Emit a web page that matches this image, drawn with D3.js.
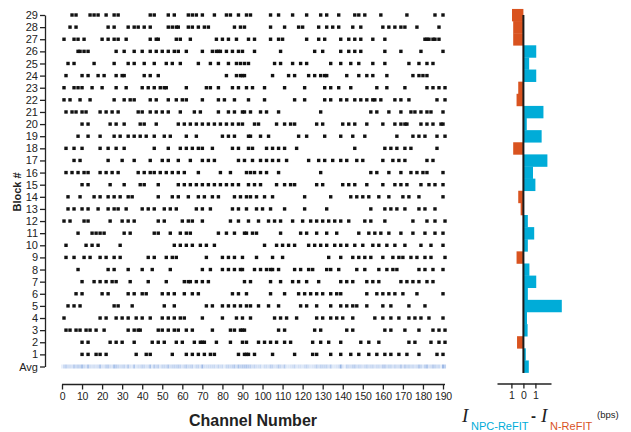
<!DOCTYPE html>
<html>
<head>
<meta charset="utf-8">
<script src="https://cdn.jsdelivr.net/npm/d3@7"></script>
<style>
  body { margin: 0; background: #fff; }
  svg { display: block; }
  text { font-family: "Liberation Sans", Arial, Helvetica, sans-serif; }
</style>
</head>
<body>
<div id="chart"></div>
<script>
// Selected channels for each block (block 1 first)
const blockChannels = [
  [10,13,17,19,22,37,42,44,55,62,65,68,71,74,76,88,91,92,93,96,105,116,125,127,134,139,144,148,153,157,161,164,168,172,178,187,190],
  [10,13,24,27,30,36,45,48,51,57,60,66,69,70,71,77,84,90,92,98,101,104,107,111,114,125,129,133,139,149,153,158,173,176,184,188,191],
  [2,4,7,9,12,14,17,21,33,36,38,39,48,50,53,56,58,62,65,75,84,86,89,90,91,108,111,126,129,142,145,161,164,171,178,185,188,191],
  [1,19,22,27,30,33,37,40,44,50,53,56,59,61,70,80,87,90,94,106,109,112,117,127,130,134,137,140,145,156,160,164,168,173,176,179,183,190],
  [3,6,9,26,28,35,51,56,72,75,80,83,86,89,92,94,98,103,108,119,122,127,134,139,142,145,147,152,160,164,173,181],
  [7,10,20,23,33,36,40,42,50,53,56,61,65,68,85,88,92,104,111,118,121,124,127,130,134,137,139,152,157,160,163,166,170,177,190],
  [10,16,19,22,25,27,34,43,52,61,63,64,67,70,73,91,94,104,109,115,118,122,128,139,142,145,152,155,158,169,172,175,178,182,185],
  [8,23,26,33,40,45,54,70,74,80,83,86,89,90,96,99,102,104,105,108,116,119,123,125,132,134,138,147,151,158,162,165,167,178,181,185,190],
  [2,6,11,14,19,22,26,29,43,46,52,55,57,72,80,83,86,90,97,105,110,133,139,145,148,151,154,160,165,168,170,174,177,181,184,191],
  [2,12,15,18,29,56,59,62,65,69,72,76,101,107,110,113,116,123,126,129,132,136,139,142,146,150,155,158,162,166,171,179,184,190],
  [8,15,17,19,21,31,34,46,48,54,59,62,64,78,82,86,91,92,95,97,109,119,122,127,132,137,148,153,156,159,163,169,175,181,186,190],
  [1,4,11,13,24,30,33,36,48,51,60,63,65,70,84,88,93,98,103,106,109,115,120,124,127,130,133,136,139,143,151,154,161,175,182,186,191],
  [3,6,10,13,18,23,26,28,32,40,43,46,51,54,57,67,70,74,85,88,92,97,100,104,111,121,132,154,161,164,167,171,178,181,186],
  [3,9,16,19,23,26,29,33,35,48,55,58,63,68,71,75,78,86,89,92,94,97,101,105,121,134,144,147,150,153,158,163,170,173,178,190],
  [10,13,24,31,39,41,48,58,61,64,67,70,73,76,79,82,85,88,93,96,99,107,111,114,116,127,130,140,143,146,152,160,166,169,172,179,183,186,190],
  [2,5,8,11,13,19,22,25,28,38,41,44,46,49,52,55,58,61,68,79,84,92,94,96,99,102,108,129,154,157,163,169,174,177,180,182,190],
  [6,9,23,30,36,44,50,53,58,64,70,73,76,88,91,95,99,102,105,108,112,123,128,131,135,139,142,147,150,160,165,168,171,182,185],
  [2,6,10,19,23,27,31,46,53,59,62,65,68,70,75,85,88,93,95,102,105,108,111,117,146,161,164,167,171,174,187],
  [8,13,19,26,29,33,36,39,42,46,51,54,62,67,80,83,86,93,94,99,103,118,122,131,139,145,151,167,175,178,181,187,191],
  [10,13,24,27,31,39,41,47,58,61,64,67,70,73,76,79,82,85,88,90,96,98,107,111,114,116,127,130,140,143,146,152,160,166,169,171,172,179,182,185,189,190],
  [2,5,7,10,12,19,22,25,28,38,40,44,47,50,53,59,66,69,78,83,86,90,91,94,99,102,108,129,154,157,163,169,174,176,179,182,184,190],
  [1,4,9,14,26,31,34,36,44,47,53,57,60,62,70,78,81,86,93,101,116,121,131,134,139,142,146,149,152,155,156,159,166,169,173,187,191],
  [1,6,8,10,15,20,27,32,40,43,46,49,51,52,62,72,74,78,85,88,92,95,101,111,121,131,134,138,144,157,162,171,182,185,188,191],
  [2,10,13,18,21,27,30,31,41,44,48,82,87,89,90,91,105,113,116,123,126,129,131,132,142,148,152,155,162,175,178,180,182],
  [3,6,16,26,33,36,41,46,52,55,59,68,74,78,83,87,89,91,93,106,109,115,119,122,134,139,144,148,155,161,173,178,182,185],
  [8,9,11,13,27,31,36,40,44,47,50,53,56,58,62,70,75,77,78,79,82,85,88,90,96,109,126,130,139,143,146,149,161,169,179,190],
  [1,6,8,11,20,23,26,28,32,44,47,48,57,59,64,77,80,83,87,93,96,104,108,110,122,128,131,139,143,146,149,155,161,181,182,183,185,186,188],
  [4,7,23,26,33,36,38,41,44,53,55,57,58,63,65,68,71,73,86,89,91,104,111,118,120,128,132,135,138,145,149,160,163,166,169,171,177,188],
  [5,7,14,16,18,22,26,28,44,46,53,56,63,65,67,70,76,82,84,88,92,94,104,108,115,122,129,132,138,146,148,151,159,172,186,190]
];

// I_NPC-ReFIT - I_N-ReFIT (bps), block 1..29
const bitrateDiff = [0.2,-0.53,0.35,0.3,3.2,0.37,1.07,0.5,-0.57,0.37,0.9,0.37,-0.23,-0.43,1.0,
                     0.8,2.0,-0.85,1.52,0.28,1.67,-0.57,-0.43,1.07,0.48,1.07,-0.85,-0.85,-0.95];
const avgDiff = 0.45;

const channelTicks = d3.range(0, 191, 10);
const diffTicks = [-1, 0, 1];
const nChannels = 192;

const blue = '#00acd8', orange = '#d9531f';

const svg = d3.select('#chart').append('svg')
    .attr('width', 631)
    .attr('height', 432);

// scales
let x = d3.scaleLinear().domain([0, 190]).range([62, 443]);
let y = d3.scaleLinear().domain([0, 29]).range([366.5, 15]);
let xb = d3.scaleLinear().domain([-2.2, 2.3]).range([497, 551]);
const rowH = y(0) - y(1);

// ---------- raster of selected channels ----------
let cells = [];
blockChannels.forEach((chs, i) => {
    chs.forEach(c => cells.push({block: i + 1, ch: c}));
});

svg.append('g').selectAll('rect')
    .data(cells)
    .join('rect')
    .attr('x', d => x(d.ch) - 1.7)
    .attr('y', d => y(d.block) - 1.7)
    .attr('width', 3.4)
    .attr('height', 3.4)
    .attr('fill', '#111');

// Avg row: fraction of blocks that use each channel
let counts = new Array(nChannels).fill(0);
cells.forEach(d => counts[d.ch]++);
let avgColor = d3.scaleLinear()
    .domain([0, d3.max(counts)])
    .range(['#e9f0fb', '#98b5e4']);

svg.append('g').selectAll('rect')
    .data(counts)
    .join('rect')
    .attr('x', (d, i) => x(i) - 1)
    .attr('y', y(0) - 2)
    .attr('width', 2.05)
    .attr('height', 4)
    .attr('fill', d => avgColor(d));

// ---------- axes ----------
let yAxis = d3.axisLeft(y)
    .tickValues(d3.range(0, 30))
    .tickFormat(d => d === 0 ? 'Avg' : d)
    .tickSize(5)
    .tickSizeOuter(0)
    .tickPadding(2);

let gy = svg.append('g')
    .attr('transform', 'translate(45,0)')
    .call(yAxis);
gy.selectAll('text').style('font-size', '11px').attr('fill', '#222');
gy.selectAll('line, path').attr('stroke', '#222').attr('stroke-width', 1.3);

let xAxis = d3.axisBottom(x)
    .tickValues(channelTicks)
    .tickSize(5)
    .tickSizeOuter(0)
    .tickPadding(3);

let gx = svg.append('g')
    .attr('transform', 'translate(0,384.5)')
    .call(xAxis);
gx.select('.domain').attr('d', `M${x(0)},0H${x(191)}`);
gx.selectAll('text').style('font-size', '10.5px').style('letter-spacing', '-0.2px').attr('fill', '#222');
gx.selectAll('line, path').attr('stroke', '#222').attr('stroke-width', 1.3);

svg.append('text')
    .attr('x', 17)
    .attr('y', 192)
    .attr('transform', 'rotate(-90,17,192)')
    .attr('text-anchor', 'middle')
    .attr('dy', '0.35em')
    .style('font-size', '11px')
    .style('font-weight', 'bold')
    .attr('fill', '#222')
    .text('Block #');

svg.append('text')
    .attr('x', 253)
    .attr('y', 426)
    .attr('text-anchor', 'middle')
    .style('font-size', '16px')
    .style('font-weight', 'bold')
    .attr('fill', '#222')
    .text('Channel Number');

// ---------- difference bars ----------
let barData = bitrateDiff.map((v, i) => ({block: i + 1, v: v}));
barData.push({block: 0, v: avgDiff});

svg.append('g').selectAll('rect')
    .data(barData)
    .join('rect')
    .attr('x', d => xb(Math.min(0, d.v)))
    .attr('y', d => y(d.block) - rowH / 2)
    .attr('width', d => Math.abs(xb(d.v) - xb(0)))
    .attr('height', rowH + 0.3)
    .attr('fill', d => d.v < 0 ? orange : blue);

svg.append('line')
    .attr('x1', xb(0)).attr('x2', xb(0))
    .attr('y1', 15).attr('y2', 373)
    .attr('stroke', '#1b1b1b')
    .attr('stroke-width', 2);

let bAxis = d3.axisBottom(xb)
    .tickValues(diffTicks)
    .tickFormat(d => Math.abs(d))
    .tickSize(5)
    .tickSizeOuter(0)
    .tickPadding(3);

let gb = svg.append('g')
    .attr('transform', 'translate(0,383.5)')
    .call(bAxis);
gb.selectAll('text').style('font-size', '10.5px').attr('fill', '#222');
gb.selectAll('line, path').attr('stroke', '#222').attr('stroke-width', 1.3);

// axis label  I_NPC-ReFIT - I_N-ReFIT (bps)
let lab = svg.append('g');
lab.append('text').attr('x', 462).attr('y', 422)
    .style('font-family', '"Liberation Serif", "Times New Roman", serif')
    .style('font-style', 'italic').style('font-size', '19px')
    .attr('fill', '#222').text('I');
lab.append('text').attr('x', 471).attr('y', 429.5)
    .style('font-size', '11px').attr('fill', blue).text('NPC-ReFIT');
lab.append('text').attr('x', 531).attr('y', 421)
    .style('font-size', '15px').style('font-weight', 'bold').attr('fill', '#222').text('-');
lab.append('text').attr('x', 541).attr('y', 422)
    .style('font-family', '"Liberation Serif", "Times New Roman", serif')
    .style('font-style', 'italic').style('font-size', '19px')
    .attr('fill', '#222').text('I');
lab.append('text').attr('x', 550).attr('y', 429.5)
    .style('font-size', '11px').attr('fill', orange).text('N-ReFIT');
lab.append('text').attr('x', 597).attr('y', 418)
    .style('font-size', '9.5px').attr('fill', '#222').text('(bps)');
</script>
</body>
</html>
